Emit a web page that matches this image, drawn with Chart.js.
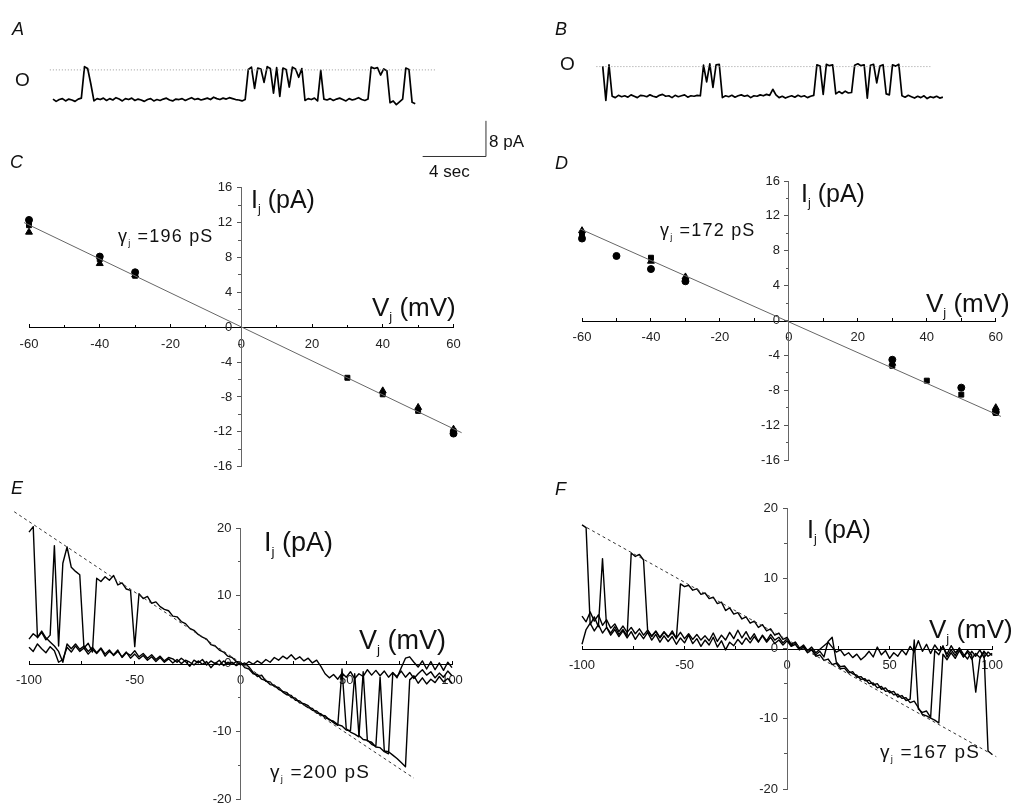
<!DOCTYPE html>
<html>
<head>
<meta charset="utf-8">
<script src="https://cdn.jsdelivr.net/npm/chart.js@4"></script>
<style>
  body { margin: 0; background: #fff; }
  #fig { position: relative; width: 1016px; height: 812px; overflow: hidden;
         font-family: "Liberation Sans", Arial, sans-serif; color: #111; }
  #fig canvas { position: absolute; left: 0; top: 0; }
  .t { position: absolute; white-space: nowrap; line-height: 1; }
  .t sub { font-size: 0.5em; vertical-align: -0.4em; line-height: 0; }
  .lab { font-style: italic; }
  .g { letter-spacing: 1.2px; }
</style>
</head>
<body>
<div id="fig">
  <canvas id="cA" width="1016" height="812"></canvas>
  <canvas id="cB" width="1016" height="812"></canvas>
  <canvas id="cC" width="1016" height="812"></canvas>
  <canvas id="cD" width="1016" height="812"></canvas>
  <canvas id="cE" width="1016" height="812"></canvas>
  <canvas id="cF" width="1016" height="812"></canvas>

  <div class="t lab" style="left:12px;top:20px;font-size:18px">A</div>
  <div class="t" style="left:15px;top:70px;font-size:19px">O</div>
  <div class="t lab" style="left:555px;top:20px;font-size:18px">B</div>
  <div class="t" style="left:560px;top:54px;font-size:19px">O</div>
  <div class="t" style="left:489px;top:133px;font-size:17px">8 pA</div>
  <div class="t" style="left:429px;top:163px;font-size:17px">4 sec</div>

  <div class="t lab" style="left:10px;top:153px;font-size:18px">C</div>
  <div class="t" style="left:251px;top:187px;font-size:25px">I<sub>j</sub> (pA)</div>
  <div class="t" style="left:372px;top:294px;font-size:26px">V<sub>j</sub> (mV)</div>
  <div class="t g" style="left:118px;top:227px;font-size:18px">γ<sub>j</sub> =196 pS</div>

  <div class="t lab" style="left:555px;top:154px;font-size:18px">D</div>
  <div class="t" style="left:801px;top:181px;font-size:25px">I<sub>j</sub> (pA)</div>
  <div class="t" style="left:926px;top:290px;font-size:26px">V<sub>j</sub> (mV)</div>
  <div class="t g" style="left:660px;top:221px;font-size:18px">γ<sub>j</sub> =172 pS</div>

  <div class="t lab" style="left:11px;top:479px;font-size:18px">E</div>
  <div class="t" style="left:264px;top:529px;font-size:27px">I<sub>j</sub> (pA)</div>
  <div class="t" style="left:359px;top:627px;font-size:27px">V<sub>j</sub> (mV)</div>
  <div class="t g" style="left:270px;top:762px;font-size:19px">γ<sub>j</sub> =200 pS</div>

  <div class="t lab" style="left:555px;top:480px;font-size:18px">F</div>
  <div class="t" style="left:807px;top:517px;font-size:25px">I<sub>j</sub> (pA)</div>
  <div class="t" style="left:929px;top:616px;font-size:26px">V<sub>j</sub> (mV)</div>
  <div class="t g" style="left:880px;top:742px;font-size:19px">γ<sub>j</sub> =167 pS</div>
</div>

<script>
// ---- single channel records (pA), sampled every 0.2 s ----
const sampleSec = 0.2;
const recordA = [
  0.2,-0.3,0.1,0.3,-0.2,0.2,0.0,-0.3,0.2,0.4,
  7.2,6.8,3.5,
  -0.2,0.3,0.1,0.4,-0.1,0.3,0.0,0.5,0.2,-0.2,
  0.3,0.1,0.4,-0.1,0.2,0.0,-0.3,0.1,0.3,-0.2,
  0.1,-0.1,0.2,0.4,0.0,-0.2,0.2,0.1,0.3,-0.1,
  0.2,0.5,0.1,0.3,0.0,0.2,0.4,0.1,0.6,0.3,
  0.1,0.4,0.2,0.5,0.3,0.1,0.0,-0.2,0.1,
  6.6,7.1,2.5,6.9,6.7,3.8,7.2,6.8,1.5,7.0,
  0.8,
  6.9,6.6,2.8,7.1,6.7,4.9,6.8,
  -0.1,0.3,0.1,0.4,-0.2,6.4,0.2,0.0,0.3,-0.1,
  0.2,0.4,0.1,-0.2,0.3,0.0,0.2,0.5,0.1,-0.1,
  0.2,
  7.1,6.8,7.0,5.4,6.7,6.3,
  -0.6,-0.2,-1.0,-0.4,0.2,
  6.9,6.6,
  -0.5,-0.8
];
const recordB = [
  6.6,-0.8,6.9,
  0.1,-0.2,0.3,0.0,0.2,-0.1,0.4,0.1,-0.2,0.3,
  0.2,0.0,0.4,0.1,-0.1,0.3,0.5,0.1,0.2,-0.2,
  0.3,0.0,0.2,0.4,-0.1,0.2,0.1,0.3,
  0.2,
  6.8,3.2,7.1,2.0,6.9,7.0,
  -0.2,0.2,0.0,0.3,-0.1,0.2,0.4,0.1,0.3,-0.2,
  0.2,0.1,0.4,0.2,0.5,0.3,1.6,0.4,-0.2,0.1,
  -0.3,0.0,0.2,-0.1,0.3,0.0,0.2,-0.2,0.1,0.3,
  6.9,6.6,0.5,7.0,6.7,6.9,
  0.6,1.1,0.7,1.2,0.8,0.9,
  6.8,7.1,6.7,6.9,
  -0.3,
  6.8,7.0,3.0,6.6,6.9,
  0.6,0.4,
  6.9,6.6,7.0,
  0.2,-0.1,0.3,0.0,-0.3,0.1,-0.2,0.2,-0.4,0.0,-0.2,0.1,-0.3,-0.1
];
const openLevelA = 6.5, openLevelB = 6.5;
const levelSpanA = [-0.2, 24.25];
const levelSpanB = [-0.4, 20.8];
const scaleBarT = [23.47, 27.49, 27.49];
const scaleBarI = [-12.2, -12.2, -4.5];

// ---- C: unitary I-V, three cell pairs ----
const ivC_circleV = [-60, -40, -30, 60];
const ivC_circleI = [12.3, 8.1, 6.3, -12.2];
const ivC_squareV = [-60, -40, -30, 30, 40, 50, 60];
const ivC_squareI = [11.7, 7.8, 5.9, -5.8, -7.7, -9.6, -11.9];
const ivC_triV = [-60, -40, -30, 40, 50, 60];
const ivC_triI = [10.9, 7.3, 6.0, -7.3, -9.2, -11.7];
const fitC_V = [-61.4, 62.3];
const fitC_I = [12.0, -12.1];

// ---- D ----
const ivD_circleV = [-60, -50, -40, -30, 30, 50, 60];
const ivD_circleI = [9.4, 7.4, 5.9, 4.5, -4.5, -7.7, -10.5];
const ivD_squareV = [-60, -40, 30, 40, 50, 60];
const ivD_squareI = [9.8, 7.2, -5.2, -6.9, -8.5, -10.6];
const ivD_triV = [-60, -40, -30, 30, 60];
const ivD_triI = [10.3, 6.8, 5.0, -4.9, -10.0];
const fitD_V = [-60.5, 61.5];
const fitD_I = [10.5, -11.0];

// ---- E / F: ramp records, current sampled every 2 mV ----
const rampMv = [
  -100,-98,-96,-94,-92,-90,-88,-86,-84,-82,-80,-78,-76,-74,-72,-70,-68,-66,-64,-62,
  -60,-58,-56,-54,-52,-50,-48,-46,-44,-42,-40,-38,-36,-34,-32,-30,-28,-26,-24,-22,
  -20,-18,-16,-14,-12,-10,-8,-6,-4,-2,0,2,4,6,8,10,12,14,16,18,
  20,22,24,26,28,30,32,34,36,38,40,42,44,46,48,50,52,54,56,58,
  60,62,64,66,68,70,72,74,76,78,80,82,84,86,88,90,92,94,96,98,100
];
const rampE1 = [
  19.4,20.2,3.8,4.6,3.5,4.2,17.4,2.6,14.8,17.2,
  14.2,13.6,13.1,2.3,3.0,1.7,12.6,12.1,12.8,12.3,
  13.0,11.6,11.9,11.0,10.8,2.5,10.3,9.6,9.9,8.9,
  9.1,8.4,8.0,7.8,7.0,6.9,6.2,5.9,5.2,4.9,
  4.3,3.9,3.6,2.8,2.6,2.0,1.7,1.1,0.9,0.3,
  0.2,
  -0.6,-0.8,-1.5,-1.6,-2.3,-2.5,-3.1,-3.2,-3.8,-4.1,
  -4.3,-5.0,-5.1,-5.8,-5.9,-6.2,-6.9,-7.0,-7.6,-7.7,
  -8.3,-8.5,-9.0,-9.2,-9.8,-9.9,-1.5,-10.6,-11.2,-11.3,
  -11.9,-12.2,-2.0,-12.9,-13.0,-13.5,-14.0,-14.6,-15.2,-2.4,
  -1.8,-2.9,-2.1,-3.0,-2.3,-2.8,-1.9,-2.7,-2.2,-2.9
];
const rampE2 = [
  2.4,1.8,2.9,2.2,1.6,2.5,1.9,0.2,0.6,2.4,
  1.7,2.6,1.8,2.3,1.4,2.1,1.5,2.2,1.1,1.8,
  1.3,2.0,0.9,1.6,1.2,1.9,1.0,1.5,0.8,1.3,
  0.6,1.1,0.4,0.9,0.7,0.2,0.8,0.3,-0.4,0.5,
  0.1,0.6,-0.2,0.4,0.0,0.5,-0.3,0.2,-0.1,0.3,
  -0.2,
  0.1,-0.5,-1.3,-1.9,-1.7,-2.6,-2.7,-3.4,-3.5,-4.2,
  -4.6,-4.7,-5.4,-5.5,-6.1,-6.5,-6.6,-7.3,-7.4,-8.0,
  -8.2,-8.7,-9.1,-0.8,-9.6,-10.1,-10.4,-10.8,-1.2,-11.4,
  -11.6,-12.3,-12.4,-13.0,-13.3,-1.4,-1.9,-1.1,-2.0,-1.3,
  -2.2,-1.5,-0.9,-1.7,-1.2,-2.1,-1.4,-2.0,-1.1,-1.8
];
const rampE3 = [
  3.6,4.4,3.9,4.8,3.8,3.2,2.6,1.8,0.2,2.9,
  2.2,2.9,2.1,2.6,1.8,2.4,1.6,2.3,1.4,2.0,
  1.2,1.8,1.0,1.7,0.8,1.4,0.7,1.2,0.5,1.0,
  0.3,0.9,0.2,0.7,0.1,0.6,0.0,0.5,0.2,-0.2,
  0.4,-0.1,0.3,-0.6,0.1,-0.2,0.4,-0.1,0.2,-0.3,
  0.1,
  -0.2,0.3,-0.1,0.4,0.0,0.6,0.2,0.9,0.5,1.1,
  0.7,1.3,0.6,1.0,0.4,0.8,0.1,0.5,-0.4,-1.5,
  -2.1,-1.6,-2.3,-1.4,-2.0,-1.2,-2.2,-1.5,-1.9,-0.9,
  -1.7,-1.0,-1.8,-1.1,-2.0,-1.3,-2.1,-0.6,0.8,1.0,
  0.2,-0.5,0.4,-0.8,0.3,-0.9,0.1,-1.0,0.2,-0.6
];
const envE_V = [-107, 82];
const envE_I = [22.4, -16.9];

const rampF1 = [
  17.6,17.2,3.4,4.5,3.1,12.8,3.0,2.2,3.1,2.0,
  2.7,1.8,13.6,13.1,13.4,12.6,2.6,1.7,2.4,1.5,
  2.3,1.6,2.5,1.4,9.2,8.8,9.0,8.3,8.5,7.7,
  7.9,7.1,7.3,6.4,6.6,5.4,5.8,4.9,5.1,4.2,
  4.5,3.6,3.9,3.0,3.4,2.5,2.8,1.9,2.2,1.3,
  1.6,
  0.6,0.9,0.1,0.3,-0.5,-0.2,-1.1,-0.9,-1.7,-1.5,
  -2.3,-2.1,-2.9,-2.8,-3.5,-3.3,-4.1,-4.0,-4.6,-4.5,
  -5.2,-5.0,-5.8,-5.6,-6.3,-6.1,-6.9,-6.7,-7.4,-7.2,
  1.2,-8.6,-9.1,-8.9,-9.8,-0.3,-0.9,0.4,-1.2,-0.2,
  -1.0,0.1,-0.8,-1.5,-0.4,-1.1,-0.2,-1.3,-0.5,-1.0
];
const rampF2 = [
  4.6,3.8,5.2,3.9,4.8,3.3,4.1,2.9,3.5,2.4,
  3.2,2.3,3.0,2.1,2.8,1.9,2.6,1.8,2.5,1.6,
  2.4,1.7,2.2,1.5,2.3,1.4,2.1,1.3,2.0,1.2,
  1.8,1.1,2.2,1.0,1.9,1.2,2.3,1.4,2.6,1.5,
  2.4,1.3,2.1,1.0,1.8,0.9,1.6,0.7,1.2,0.5,
  1.1,
  0.3,0.6,-0.2,0.2,-0.6,-0.1,-0.9,-0.4,-1.2,1.0,
  1.6,-1.9,-2.6,-2.5,-3.2,-3.6,-3.8,-4.4,-4.3,-5.0,
  -4.9,-5.6,-5.4,-6.1,-6.0,-6.6,-6.5,-7.1,-7.0,-7.7,
  -7.5,-8.4,-9.4,-9.6,-9.9,-10.2,-10.6,-0.8,-1.6,-0.6,
  -1.4,-0.3,-1.2,-0.5,-1.5,-0.7,-1.3,-0.4,-14.6,-15.1
];
const rampF3 = [
  0.6,2.7,3.6,2.5,3.4,2.2,3.0,1.9,2.7,1.7,
  2.5,1.5,2.4,1.3,2.2,1.4,2.3,1.2,2.0,0.9,
  1.8,1.0,1.7,0.6,1.5,0.8,1.9,0.7,1.4,0.3,
  1.2,0.5,1.6,0.2,1.1,-0.2,0.9,0.4,1.3,0.6,
  1.5,0.8,1.7,0.9,1.9,1.1,2.0,1.2,1.6,0.8,
  1.4,
  0.4,0.9,0.0,0.5,-0.3,0.2,-0.6,-0.1,0.4,0.9,
  0.2,-0.5,-0.2,-1.0,-0.6,-1.3,-0.8,-1.6,-1.1,-0.4,
  -1.2,0.2,-0.9,-0.3,-1.4,-0.6,-1.1,-0.2,-0.9,0.3,
  -0.5,1.1,-0.4,0.6,-0.7,0.5,-0.3,0.2,-0.8,0.4,
  -0.6,0.0,-1.2,-0.3,-0.9,-6.2,-1.5,-0.4,-1.1,-0.7
];
const envF_V = [-97.6, 102];
const envF_I = [17.2, -15.4];

// ---- helpers ----
const W = 1016, H = 812;
const tickFont = { family: "'Liberation Sans', Arial, sans-serif", size: 13 };
const pts = (xs, ys) => xs.map((x, k) => ({ x: x, y: ys[k] }));
const timesOf = (rec) => rec.map((_, k) => k * sampleSec);

// centre-crossing axes should not steal room from the plot area
function flatFit(s) {
    if (s.isHorizontal()) s.height = 0; else s.width = 0;
}

function line(xs, ys, extra) {
    return Object.assign({
        data: pts(xs, ys), showLine: true, borderColor: "#000", borderWidth: 1,
        borderJoinStyle: "round", pointRadius: 0, tension: 0, clip: false
    }, extra);
}

function marks(xs, ys, style, r) {
    return {
        data: pts(xs, ys), showLine: false, pointStyle: style, pointRadius: r,
        backgroundColor: "#000", borderColor: "#000", borderWidth: 1, clip: false
    };
}

// all I-V panels are symmetric, so "center" puts each axis through zero
function crossAxes(xr, xStep, xMinor, yr, yStep, yMinor) {
    const x = {
        type: "linear", min: xr[0], max: xr[1], position: "center", afterFit: flatFit,
        ticks: { stepSize: xStep, autoSkip: false, maxRotation: 0, font: tickFont, color: "#222", padding: 13 },
        grid: { drawOnChartArea: false, tickLength: -4, color: "#000" },
        border: { color: "#000", width: 1 }
    };
    const xm = {
        type: "linear", min: xr[0], max: xr[1], position: "center", afterFit: flatFit,
        ticks: { stepSize: xMinor, display: false },
        grid: { drawOnChartArea: false, tickLength: -3, color: "#000" },
        border: { display: false }
    };
    const y = {
        type: "linear", min: yr[0], max: yr[1], position: "center", afterFit: flatFit,
        ticks: { stepSize: yStep, autoSkip: false, font: tickFont, color: "#222", padding: 5 },
        grid: { drawOnChartArea: false, tickLength: 4, color: "#555" },
        border: { color: "#666", width: 1 }
    };
    const ym = {
        type: "linear", min: yr[0], max: yr[1], position: "center", afterFit: flatFit,
        ticks: { stepSize: yMinor, display: false },
        grid: { drawOnChartArea: false, tickLength: 3, color: "#555" },
        border: { display: false }
    };
    return { x: x, xm: xm, y: y, ym: ym };
}

function hiddenAxes(xr, yr) {
    return {
        x: { type: "linear", display: false, min: xr[0], max: xr[1] },
        y: { type: "linear", display: false, min: yr[0], max: yr[1] }
    };
}

// box = [left, right, top, bottom] of the plot area in page pixels
function panel(id, box, scales, datasets) {
    return new Chart(document.getElementById(id), {
        type: "scatter",
        data: { datasets: datasets },
        options: {
            responsive: false,
            animation: false,
            events: [],
            layout: { padding: { left: box[0], right: W - box[1], top: box[2], bottom: H - box[3] } },
            plugins: { legend: { display: false }, tooltip: { enabled: false } },
            scales: scales
        }
    });
}

const dotted = { borderColor: "#9a9a9a", borderDash: [1, 2] };
const dashed = { borderColor: "#333", borderDash: [3, 3] };
const fitStyle = { borderColor: "#666" };
const record = { borderWidth: 1.7 };
const ramp = { borderWidth: 1.4 };

// A (time axis runs on to the scale bar)
panel("cA", [53, 494, 62.96, 109.26], hiddenAxes([0, 28], [-2, 8]), [
    line(levelSpanA, [openLevelA, openLevelA], dotted),
    line(timesOf(recordA), recordA, record),
    line(scaleBarT, scaleBarI, { borderColor: "#333", borderJoinStyle: "miter" })
]);

// B
panel("cB", [602.7, 980.7, 59.66, 105.96], hiddenAxes([0, 24], [-2, 8]), [
    line(levelSpanB, [openLevelB, openLevelB], dotted),
    line(timesOf(recordB), recordB, record)
]);

// C
panel("cC", [29, 453.5, 187.7, 466.7], crossAxes([-60, 60], 20, 10, [-16, 16], 4, 2), [
    line(fitC_V, fitC_I, fitStyle),
    marks(ivC_circleV, ivC_circleI, "circle", 3.5),
    marks(ivC_squareV, ivC_squareI, "rect", 3.5),
    marks(ivC_triV, ivC_triI, "triangle", 4)
]);

// D
panel("cD", [582, 1007, 181, 460], crossAxes([-60, 60], 20, 10, [-16, 16], 4, 2), [
    line(fitD_V, fitD_I, fitStyle),
    marks(ivD_circleV, ivD_circleI, "circle", 3.5),
    marks(ivD_squareV, ivD_squareI, "rect", 3.5),
    marks(ivD_triV, ivD_triI, "triangle", 4)
]);

// E
panel("cE", [29, 452, 528, 809], crossAxes([-100, 100], 50, 25, [-20, 20], 10, 5), [
    line(envE_V, envE_I, dashed),
    line(rampMv, rampE3, ramp),
    line(rampMv, rampE2, ramp),
    line(rampMv, rampE1, ramp)
]);

// F
panel("cF", [582, 1008, 508, 789], crossAxes([-100, 100], 50, 25, [-20, 20], 10, 5), [
    line(envF_V, envF_I, dashed),
    line(rampMv, rampF3, ramp),
    line(rampMv, rampF2, ramp),
    line(rampMv, rampF1, ramp)
]);
</script>
</body>
</html>
